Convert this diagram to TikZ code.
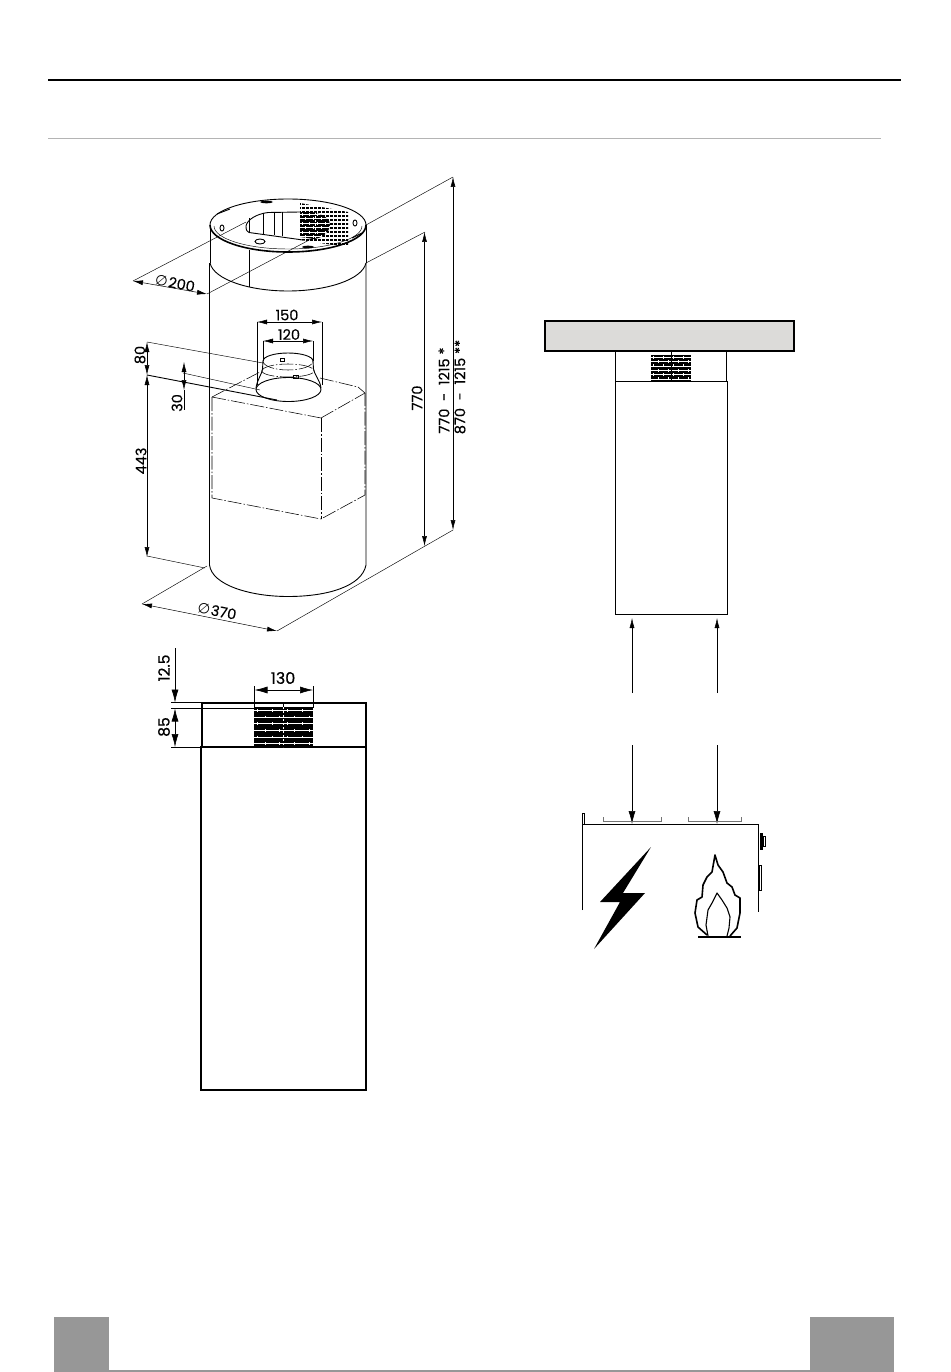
\documentclass[tikz,border=0pt]{standalone}
\usepackage{fontspec}
\setmainfont{Poppins}[FakeBold=0.35]
\newfontfamily\symfont{DejaVu Sans}
\usetikzlibrary{arrows.meta,positioning,calc}
\definecolor{slab}{HTML}{DCDBD9}
\definecolor{rulegray}{HTML}{B4B4B4}
\definecolor{pagegray}{HTML}{979797}
\tikzset{
  thinline/.style={line width=0.45pt},
  bodyline/.style={line width=0.9pt},
  heavyline/.style={line width=1.6pt},
  hiddenline/.style={line width=0.55pt, dash pattern=on 14pt off 2pt on 1.5pt off 2pt},
  dim/.style={line width=0.5pt, {Latex[length=10pt,width=5pt]}-{Latex[length=10pt,width=5pt]}},
  dimto/.style={line width=0.5pt, -{Latex[length=10pt,width=5pt]}},
  bigdim/.style={line width=0.6pt, {Latex[length=13pt,width=7pt]}-{Latex[length=13pt,width=7pt]}},
  bigdimto/.style={line width=0.6pt, -{Latex[length=13pt,width=7pt]}},
  dimlabel/.style={font=\fontsize{14.5}{15}\selectfont, inner sep=0pt},
  gridlabel/.style={dimlabel, rotate=90}
}
% brick mesh: x1, y1, x2, y2
\newcommand{\brickmesh}[4]{
  \fill (#1,#2) rectangle (#3,#4);
  \pgfmathsetmacro{\meshmid}{(#1+#3)/2}
  \pgfmathsetmacro{\meshstep}{(#3-#1)/4}
  \foreach \row in {0,...,5}{
    \pgfmathsetmacro{\rowy}{#2+(\row+0.5)*(#4-#2)/6}
    \draw[white, line width=0.55pt] (#1,\rowy) -- (#3,\rowy);
    \pgfmathsetmacro{\shift}{mod(\row,2)*0.5}
    \foreach \col in {0,...,3}{
      \pgfmathsetmacro{\colx}{#1+(\col+0.25+\shift)*\meshstep}
      \draw[white, line width=0.8pt] (\colx,\rowy-1.4) -- (\colx,\rowy+1.4);
    }
  }
  \draw[white, line width=0.5pt, dash pattern=on 2pt off 2pt] (\meshmid,#2) -- (\meshmid,#4);
}
\begin{document}
\begin{tikzpicture}[x=1pt, y=-1pt]
  \useasboundingbox (0,0) rectangle (950,1372);
  % page furniture
  \draw[line width=2pt] (48,80) -- (901,80);
  \draw[rulegray, line width=1pt] (48,139) -- (881,139);
  \fill[pagegray] (54,1317) rectangle (109,1372);
  \fill[pagegray] (810,1317) rectangle (894,1372);
  \draw[pagegray, line width=2pt] (109,1371) -- (810,1371);

  % chimney, perspective view
  \draw[bodyline] (209.5,263) -- (209.5,565) .. controls (212,585) and (250,596.5) .. (288,596.5)
    .. controls (328,596.5) and (362,586) .. (366,565) -- (366,263);
  \draw[heavyline] (210,225) arc[start angle=180, end angle=0, x radius=78, y radius=27];
  \draw[bodyline] (210,225) arc[start angle=180, end angle=360, x radius=78, y radius=26];
  \draw[thinline] (214,226) arc[start angle=180, end angle=0, x radius=74, y radius=23];
  \draw[bodyline] (210,225) -- (210,263);
  \draw[bodyline] (366,225) -- (366,263);
  \draw[bodyline] (210,263) .. controls (214,280) and (250,291) .. (288,291)
    .. controls (326,291) and (362,280) .. (366,263);
  \draw[thinline] (249,250) -- (249,287);

  % top plate: perforation, outlet and small details
  \begin{scope}
    \clip (300,203) -- (348,212) -- (348,245) -- (340,246) -- (300,240) -- cycle;
    \foreach \py in {204,208,...,246}{
      \draw[line width=1.1pt, dash pattern=on 3pt off 1pt] (298,\py) -- (352,\py);
    }
  \end{scope}
  \draw[bodyline] (300,212) -- (268,212.5) .. controls (256,214) and (247,220) .. (246,226)
    .. controls (246,230) and (247,232) .. (249,232.5) -- (303,240);
  \draw[thinline] (249,218) -- (249,232);
  \draw[bodyline] (263,213) -- (263,234);
  \draw[bodyline] (274,212) -- (274,235);
  \draw[thinline] (282,212) -- (282,236);
  \begin{scope}
    \clip (300,212) -- (312,212) .. controls (324,214) and (331,220) .. (330,226)
      .. controls (329,233) and (322,238) .. (314,239) -- (300,237) -- cycle;
    \brickmesh{300}{212}{331}{239}
  \end{scope}
  \draw[bodyline] (260,241.5) ellipse [x radius=5, y radius=2.5];
  \draw[bodyline] (222,228) ellipse [x radius=2, y radius=3];
  \draw[bodyline] (355,223) ellipse [x radius=2, y radius=3];
  \fill (266.5,202) ellipse [x radius=6.5, y radius=1.3];
  \draw[bodyline] (217,214) -- (230,209);
  \fill (308,247) ellipse [x radius=6, y radius=1.3];
  \draw[bodyline] (352,238) -- (362,233);

  % box behind the cylinder
  \draw[hiddenline] (212,397) -- (212,498) -- (321,519) -- (365,495) -- (365,393);
  \draw[hiddenline] (212,397) -- (321,418);
  \draw[hiddenline, line width=0.9pt] (321,418) -- (321,519);
  \draw[hiddenline] (321,418) -- (365,393);
  \draw[hiddenline] (212,397) -- (260,372);
  \draw[hiddenline] (320,378) -- (358,387) -- (365,393);

  % duct
  \draw[thinline] (263,361) -- (263,341) (313,361) -- (313,341);
  \draw[thinline] (257,385) -- (257,322) (322,385) -- (322,322);
  \draw[bodyline] (263,361) -- (262.5,369) .. controls (262,374) and (257,380) .. (256,388);
  \draw[bodyline] (313,361) -- (313.5,369) .. controls (314,374) and (320,380) .. (321,388);
  \draw[hiddenline] (263,361) arc[start angle=180, end angle=0, x radius=25, y radius=9];
  \draw[bodyline] (263,361) arc[start angle=180, end angle=360, x radius=25, y radius=8];
  \draw[hiddenline] (262,371) arc[start angle=180, end angle=0, x radius=26, y radius=6];
  \draw[hiddenline] (262,371) arc[start angle=180, end angle=360, x radius=26, y radius=7];
  \draw[bodyline] (288.5,389.5) ellipse [x radius=32.5, y radius=12];
  \draw[thinline] (280,358.5) rectangle (284,361);
  \draw[thinline] (293,375.5) rectangle (298,378.5);

  % extension lines
  \draw[thinline] (133,281) -- (246,222);
  \draw[thinline] (366,225) -- (453,177);
  \draw[thinline] (207,294) -- (313,238);
  \draw[thinline] (366,263) -- (425,232);
  \draw[thinline] (142,604) -- (207,566);
  \draw[thinline] (277,631) -- (453,530);
  \draw[thinline] (147,342) -- (263,363);
  \draw[bodyline] (147,375) -- (277,400);
  \draw[thinline] (183,373) -- (260,390);
  \draw[thinline] (147,556) -- (205,568);

  % dimensions
  \draw[dim] (133,281) -- (207,294);
  \draw[dim] (142,604) -- (277,631);
  \draw[dim] (257,322) -- (322,322);
  \draw[dim] (263,341) -- (313,341);
  \draw[dim] (453,177) -- (453,530);
  \draw[dim] (424.5,232) -- (424.5,546);
  \draw[dim] (147,342) -- (147,375);
  \draw[dim] (147,375) -- (147,557);
  \draw[dim] (184,362) -- (184,390);
  \draw[thinline] (184,390) -- (184,410);

  \node[dimlabel, rotate=-11] (Dia200) at (175,283) {{\symfont∅}\kern1pt 200};
  \node[dimlabel, rotate=-11] (Dia370) at (217,611) {{\symfont∅}\kern1pt 370};
  \node[dimlabel] (Len150) at (287,315) {150};
  \node[dimlabel] (Len120) at (289,334.5) {120};
  \node[gridlabel] (Len80) at (140,355) {80};
  \node[gridlabel] (Len30) at (177,403) {30};
  \node[gridlabel] (Len443) at (141,461) {443};
  \node[gridlabel] (Len770) at (417,398) {770};
  \node[gridlabel] (RangeA) at (444,390.5) {770 \ - \ 1215 *};
  \node[gridlabel] (RangeB) at (460,387) {870 \ - \ 1215 **};

  % front view
  \draw[heavyline] (202,747) -- (202,703) -- (366,703) -- (366,747);
  \draw[heavyline] (201,747) rectangle (366,1090);
  \brickmesh{254}{707}{313}{747}
  \draw[thinline] (283,703) -- (283,707);
  \draw[thinline] (171,702.5) -- (202,702.5);
  \draw[thinline] (171,708.5) -- (254,708.5);
  \draw[thinline] (171,747) -- (202,747);
  \draw[thinline] (254.5,686) -- (254.5,708) (313,686) -- (313,708);
  \draw[bigdim] (254.5,690) -- (313,690);
  \draw[bigdimto] (175,648) -- (175,702.5);
  \draw[bigdim] (175,708.5) -- (175,747);
  \node[dimlabel, font=\fontsize{16}{17}\selectfont] (Len130) at (283,678) {130};
  \node[gridlabel, font=\fontsize{15.5}{16}\selectfont] (Len125) at (164,668) {12.5};
  \node[gridlabel, font=\fontsize{15.5}{16}\selectfont] (Len85) at (164,727) {85};

  % ceiling and column, right side
  \draw[heavyline, fill=slab] (545,321) rectangle (794,351);
  \draw[bodyline] (615.5,351) -- (615.5,381) (726,351) -- (726,381);
  \draw[bodyline] (615.5,381) rectangle (727,614);
  \brickmesh{651}{355}{691}{381}
  \draw[bodyline] (671.5,351) -- (671.5,381);

  % arrows between column and hob
  \draw[dimto] (632,693) -- (632,618);
  \draw[dimto] (717,693) -- (717,618);
  \draw[bigdimto] (632,745) -- (632,824);
  \draw[bigdimto] (717,745) -- (717,824);

  % hob
  \draw[bodyline] (582,910) -- (582,824) -- (758,824) -- (758,912);
  \draw[thinline] (582,824) -- (582,813) -- (584,813) -- (584,824);
  \draw[black!55, line width=0.7pt] (603,817) -- (603,821) -- (661,821) -- (661,817);
  \draw[black!55, line width=0.7pt] (688,817) -- (688,821) -- (741,821) -- (741,817);
  \fill (760,833) rectangle (763,850);
  \draw[thinline] (763,836) rectangle (765,846);
  \draw[thinline] (759,865) rectangle (761,890);
  \fill (651,847) -- (600,902) -- (620,902) -- (594,949) -- (645,893) -- (623,893) -- cycle;
  \draw[line width=1.6pt, line join=round] (707,935) -- (698,927) -- (695,913) -- (697,900) -- (702,897)
    -- (703,885) -- (707,877) -- (712,872) -- (715,855) -- (718,865) -- (723,872) -- (727,883)
    -- (732,887) -- (735,895) -- (740,898) -- (740,913) -- (737,928) -- (730,936);
  \draw[line width=1.1pt, line join=round] (708,936) -- (706,925) -- (708,910) -- (712,903) -- (717,893)
    -- (722,900) -- (727,908) -- (730,917) -- (729,928) -- (727,936);
  \draw[line width=1.7pt] (698,937) -- (741,937);
\end{tikzpicture}
\end{document}
